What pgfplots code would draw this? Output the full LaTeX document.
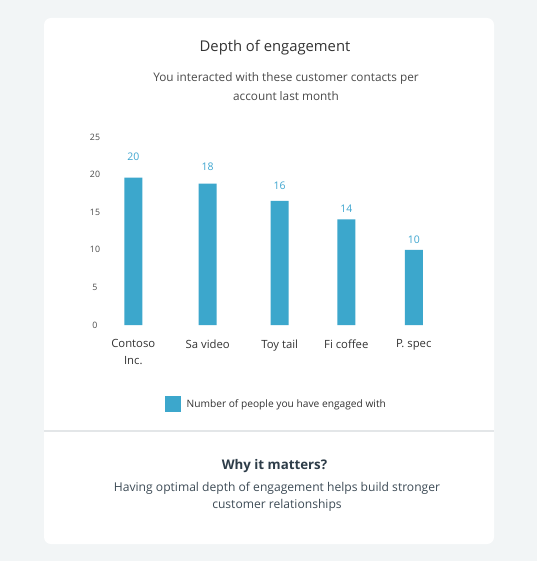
\documentclass[border=0pt]{standalone}
\usepackage{pgfplots}
\pgfplotsset{compat=1.18}
\usepackage{fontspec}
\setmainfont{Open Sans}
\definecolor{bg}{HTML}{F2F5F6}
\definecolor{barc}{HTML}{3CA7CC}
\definecolor{labc}{HTML}{3FA6D0}
\definecolor{sep}{HTML}{E3E6E8}
\definecolor{titc}{HTML}{333333}
\definecolor{subc}{HTML}{4A4A4A}
\definecolor{whyc}{HTML}{2E3D49}
\definecolor{bodyc}{HTML}{3D4B56}
\begin{document}
\begin{tikzpicture}[x=1pt,y=1pt]
\fill[bg] (0,0) rectangle (537,-561);
\fill[white, rounded corners=7pt] (44,-18) rectangle (494,-544);
\draw[sep, line width=1.3pt] (44,-431) -- (494,-431);
\node[font=\fontsize{14.8}{17}\selectfont, text=titc] at (275,-48) {Depth of engagement};
\node[align=center, font=\fontsize{11.8}{19}\selectfont, text=subc] at (286,-86.5) {You interacted with these customer contacts per\\account last month};
\node[font=\fontsize{13.3}{16}\selectfont\bfseries, text=whyc] at (274.5,-466) {Why it matters?};
\node[align=center, font=\fontsize{12.1}{17}\selectfont, text=bodyc] at (277,-496.5) {Having optimal depth of engagement helps build stronger\\customer relationships};
\begin{axis}[
  at={(80pt,-325pt)}, anchor=south west,
  scale only axis, width=370pt, height=188pt,
  xmin=80, xmax=450, ymin=0, ymax=25,
  axis line style={draw=none}, major tick length=0pt,
  ytick={0,5,10,15,20,25},
  yticklabel style={anchor=center, xshift=15pt, font=\fontsize{8.8}{10}\selectfont, text=subc},
  /pgf/number format/assume math mode=true,
  xtick={133.3,207.7,279.7,346.3,413.8},
  xticklabels={{Contoso\\Inc.},{Sa video},{Toy tail},{Fi coffee},{P. spec}},
  xticklabel style={align=center, anchor=north, yshift=-11pt, font=\fontsize{11.3}{17}\selectfont, text=titc},
  legend style={draw=none, fill=none, at={(0.2297,-0.42)}, anchor=west, inner sep=0pt,
    font=\fontsize{10.2}{12}\selectfont, text=titc, legend cell align=left,
    /tikz/every even column/.append style={column sep=0pt}},
  clip=false,
]
\addplot[ybar, bar width=18, fill=barc, draw=none, forget plot] coordinates {
  (133.3,19.6) (207.7,18.8) (279.7,16.5) (346.3,14.05) (413.8,10.0)};
% value labels
\addplot[only marks, mark=none, forget plot,
  nodes near coords, point meta=explicit symbolic,
  nodes near coords style={anchor=center, font=\fontsize{10.5}{12}\selectfont, text=labc}]
  coordinates {(133.3,22.43)[20] (207.7,21.1)[18] (279.7,18.5)[16] (346.3,15.4)[14] (413.8,11.3)[10]};
\addlegendimage{legend image code/.code={\fill[barc] (0pt,-7.5pt) rectangle (15pt,7.5pt);}}
\addlegendentry{\hspace{4pt}Number of people you have engaged with}
\end{axis}
\end{tikzpicture}
\end{document}
